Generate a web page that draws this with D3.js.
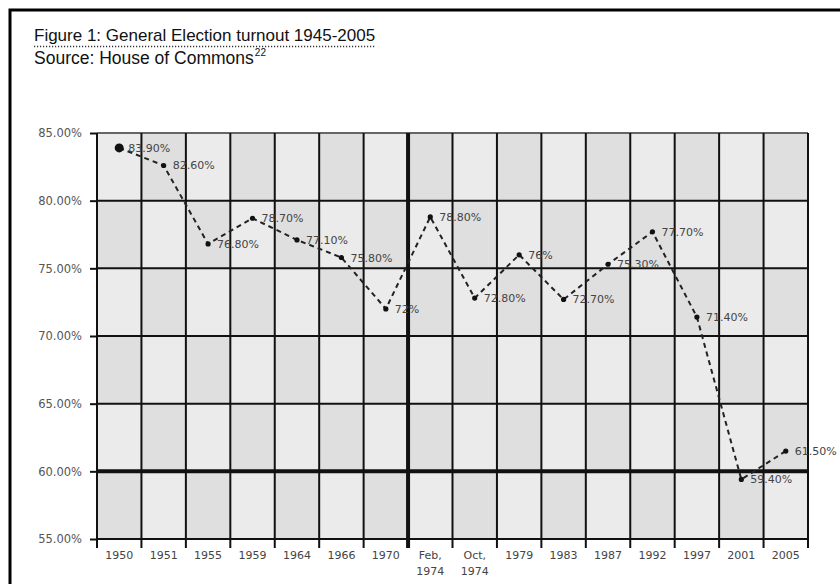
<!DOCTYPE html>
<html>
<head>
<meta charset="utf-8">
<script src="https://cdn.jsdelivr.net/npm/d3@7"></script>
<style>
  html, body { margin: 0; padding: 0; background: #fff; }
  svg { display: block; }
</style>
</head>
<body>
<svg id="chart" width="840" height="584"></svg>
<script>
// Election years (multi-line labels split on "\n")
const categories = ["1950", "1951", "1955", "1959", "1964", "1966", "1970",
  "Feb,\n1974", "Oct,\n1974", "1979", "1983", "1987", "1992", "1997", "2001", "2005"];
// Turnout, percent of registered electorate
const turnout = [83.9, 82.6, 76.8, 78.7, 77.1, 75.8, 72.0, 78.8, 72.8, 76.0,
  72.7, 75.3, 77.7, 71.4, 59.4, 61.5];
const valueLabels = ["83.90%", "82.60%", "76.80%", "78.70%", "77.10%", "75.80%", "72%",
  "78.80%", "72.80%", "76%", "72.70%", "75.30%", "77.70%", "71.40%", "59.40%", "61.50%"];
const yTicks = [55, 60, 65, 70, 75, 80, 85];

const svg = d3.select("#chart");
const plot = { left: 97, right: 808, top: 133, bottom: 539 };

const x = d3.scaleBand().domain(categories).range([plot.left, plot.right]).padding(0);
const y = d3.scaleLinear().domain([55, 85]).range([plot.bottom, plot.top]);

// Frame around the figure (right and bottom edges run off the page)
svg.append("rect")
  .attr("x", 10).attr("y", 10).attr("width", 900).attr("height", 700)
  .attr("fill", "none").attr("stroke", "#000").attr("stroke-width", 3);

// Title with dotted underline
const title = svg.append("text")
  .attr("x", 34).attr("y", 41)
  .attr("font-family", "'Liberation Sans', Arial, sans-serif")
  .attr("font-size", 17).attr("fill", "#111")
  .text("Figure 1: General Election turnout 1945-2005");
const tw = title.node().getComputedTextLength();
svg.append("line")
  .attr("x1", 34).attr("x2", 34 + tw).attr("y1", 46.5).attr("y2", 46.5)
  .attr("stroke", "#333").attr("stroke-width", 1.4).attr("stroke-dasharray", "1.2,1.8");

const source = svg.append("text")
  .attr("x", 34).attr("y", 64)
  .attr("font-family", "'Liberation Sans', Arial, sans-serif")
  .attr("font-size", 17.5).attr("fill", "#111");
source.append("tspan").text("Source: House of Commons");
source.append("tspan").attr("font-size", 10).attr("dy", -8).attr("dx", 1).text("22");

// Checkerboard cells
const rows = d3.pairs(yTicks).reverse(); // top row first
const g = svg.append("g");
rows.forEach((r, i) => {
  categories.forEach((c, j) => {
    g.append("rect")
      .attr("x", x(c)).attr("width", x.bandwidth())
      .attr("y", y(r[1])).attr("height", y(r[0]) - y(r[1]))
      .attr("fill", (i + j) % 2 === 0 ? "#ebebeb" : "#dfdfdf");
  });
});

// Horizontal grid lines
svg.append("g").selectAll("line").data(yTicks).join("line")
  .attr("x1", plot.left).attr("x2", plot.right)
  .attr("y1", d => y(d)).attr("y2", d => y(d))
  .attr("stroke", d => d === 85 ? "#666" : "#111")
  .attr("stroke-width", d => d === 60 ? 4 : 2);

// Vertical grid lines at column boundaries, with ticks below the axis
const edges = categories.map(c => x(c)).concat([x.range()[1]]);
svg.append("g").selectAll("line").data(edges).join("line")
  .attr("x1", d => d).attr("x2", d => d)
  .attr("y1", plot.top).attr("y2", plot.bottom + 9)
  .attr("stroke", "#111")
  .attr("stroke-width", (d, i) => i === 7 ? 4 : 2);

// Y axis
const yAxis = svg.append("g")
  .attr("transform", `translate(${plot.left},0)`)
  .call(d3.axisLeft(y).tickValues(yTicks).tickSize(7).tickPadding(8)
    .tickFormat(d => d3.format(".2f")(d) + "%"));
yAxis.select(".domain").remove();
yAxis.selectAll(".tick line").attr("stroke", "#111").attr("stroke-width", 2);
yAxis.selectAll(".tick text")
  .attr("font-family", "'DejaVu Sans', sans-serif")
  .attr("font-size", 11.5).attr("fill", "#555");

// X axis labels (centred in each column)
const xAxis = svg.append("g")
  .attr("transform", `translate(0,${plot.bottom})`)
  .call(d3.axisBottom(x).tickSize(0).tickFormat(""));
xAxis.select(".domain").remove();
xAxis.selectAll(".tick").each(function(d) {
  const t = d3.select(this).append("text")
    .attr("text-anchor", "middle")
    .attr("font-family", "'DejaVu Sans', sans-serif")
    .attr("font-size", 11).attr("fill", "#444");
  d.split("\n").forEach((line, k) => {
    t.append("tspan").attr("x", 0).attr("y", 20 + k * 16).text(line);
  });
});

// Turnout line
const pts = categories.map((c, i) => ({ c, v: turnout[i], label: valueLabels[i] }));
svg.append("path")
  .datum(pts)
  .attr("fill", "none").attr("stroke", "#222").attr("stroke-width", 2)
  .attr("stroke-dasharray", "5,4")
  .attr("d", d3.line().x(d => x(d.c) + x.bandwidth() / 2).y(d => y(d.v)));

svg.append("g").selectAll("circle").data(pts).join("circle")
  .attr("cx", d => x(d.c) + x.bandwidth() / 2)
  .attr("cy", d => y(d.v))
  .attr("r", (d, i) => i === 0 ? 4.5 : 2.6)
  .attr("fill", "#111");

svg.append("g").selectAll("text").data(pts).join("text")
  .attr("x", d => x(d.c) + x.bandwidth() / 2 + 9)
  .attr("y", d => y(d.v) + 4)
  .attr("font-family", "'DejaVu Sans', sans-serif")
  .attr("font-size", 11).attr("fill", "#444")
  .text(d => d.label);
</script>
</body>
</html>
